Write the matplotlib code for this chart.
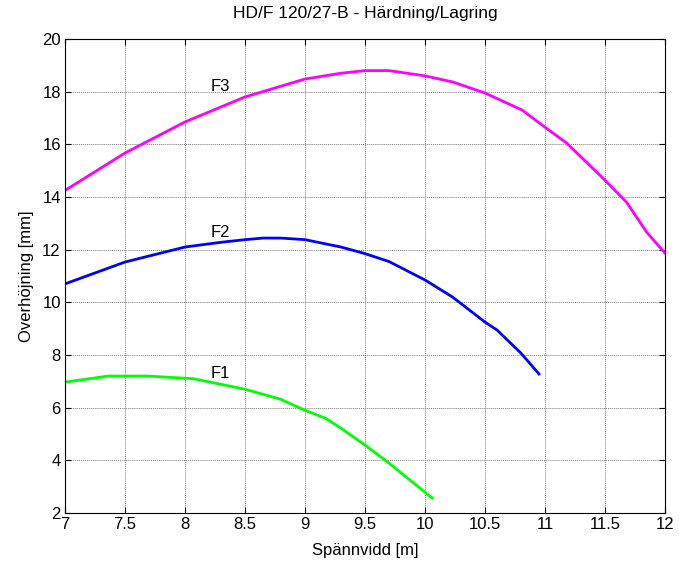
import matplotlib
matplotlib.use("Agg")
import matplotlib.pyplot as plt

plt.rcParams["font.family"] = ["Liberation Sans", "DejaVu Sans"]

# ── data ─────────────────────────────────────────────────────────────────────
f1_x = [7.0, 7.36, 7.69, 8.07, 8.5, 8.79, 9.0, 9.17, 9.3, 9.5, 9.69, 10.06]
f1_y = [6.97, 7.2, 7.2, 7.1, 6.7, 6.33, 5.9, 5.6, 5.22, 4.58, 3.93, 2.57]

f2_x = [7.0, 7.5, 8.0, 8.3, 8.5, 8.65, 8.8, 9.0, 9.3, 9.5, 9.7, 10.0,
        10.23, 10.5, 10.6, 10.8, 10.95]
f2_y = [10.7, 11.53, 12.1, 12.28, 12.38, 12.44, 12.44, 12.38, 12.1, 11.85,
        11.55, 10.85, 10.2, 9.25, 8.95, 8.07, 7.28]

f3_x = [7.0, 7.5, 8.0, 8.5, 9.0, 9.3, 9.5, 9.7, 10.0, 10.23, 10.5, 10.81,
        11.0, 11.18, 11.5, 11.68, 11.85, 12.0]
f3_y = [14.25, 15.67, 16.85, 17.8, 18.48, 18.7, 18.8, 18.8, 18.6, 18.37,
        17.95, 17.3, 16.65, 16.05, 14.64, 13.8, 12.65, 11.87]

curves = [("F1", f1_x, f1_y, "#00FF00", 7.28),
          ("F2", f2_x, f2_y, "#0000FF", 12.67),
          ("F3", f3_x, f3_y, "#FF00FF", 18.2)]

fig = plt.figure(figsize=(6.79, 5.62), dpi=100)
ax = fig.add_axes([0.0957, 0.0872, 0.8836, 0.8434])

for name, xs, ys, col, ly in curves:
    ax.plot(xs, ys, color=col, linewidth=2.0)
    ax.text(8.21, ly, name, fontsize=12, ha="left", va="center")

ax.set_xlim(7, 12)
ax.set_ylim(2, 20)
ax.set_xticks([7, 7.5, 8, 8.5, 9, 9.5, 10, 10.5, 11, 11.5, 12])
ax.set_xticklabels(["7", "7.5", "8", "8.5", "9", "9.5", "10", "10.5", "11", "11.5", "12"])
ax.set_yticks(range(2, 21, 2))
ax.tick_params(direction="in", top=True, right=True, length=4, labelsize=12, pad=3)
ax.grid(True, linestyle=(0, (1, 1)), color="#7a7a7a", linewidth=0.7)
for s in ax.spines.values():
    s.set_linewidth(0.8)

ax.set_xlabel("Spännvidd [m]", fontsize=12, labelpad=8)
ax.set_ylabel("Overhöjning [mm]", fontsize=12, labelpad=6)
ax.set_title("HD/F 120/27-B - Härdning/Lagring", fontsize=12.5, pad=15)

fig.savefig("out.png", dpi=100)
